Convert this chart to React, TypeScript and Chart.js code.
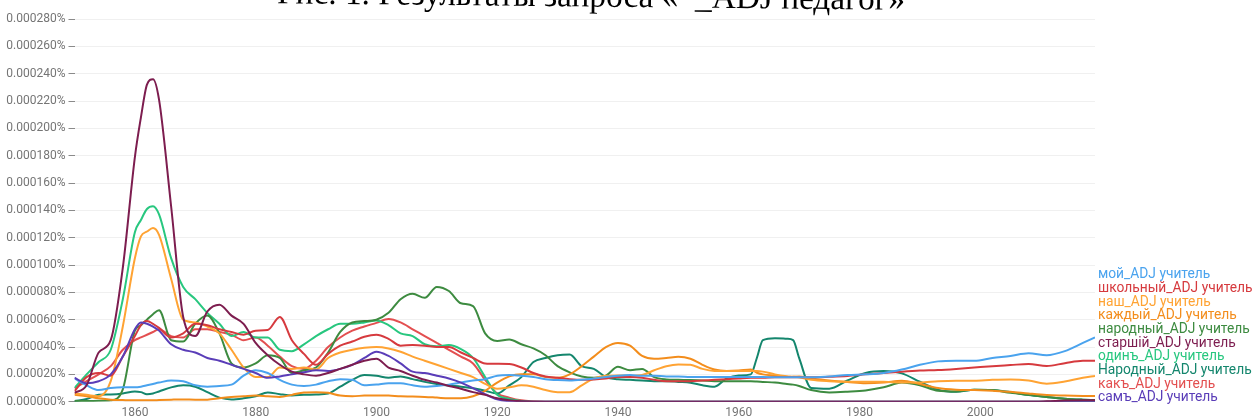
import React, { useEffect, useRef } from "react";
import { Chart, registerables } from "chart.js";

Chart.register(...registerables);

const TITLE = "Рис. 1. Результаты запроса «*_ADJ педагог»";

const YEARS = [
  1850, 1852, 1854, 1856, 1858, 1860, 1861, 1862, 1863, 1864,
  1866, 1868, 1870, 1872, 1874, 1876, 1878, 1880, 1882, 1884,
  1886, 1888, 1890, 1892, 1894, 1896, 1898, 1900, 1902, 1904,
  1906, 1908, 1910, 1912, 1914, 1916, 1918, 1920, 1922, 1924,
  1926, 1928, 1930, 1932, 1934, 1936, 1938, 1940, 1942, 1944,
  1946, 1948, 1950, 1952, 1954, 1956, 1958, 1960, 1962, 1963,
  1964, 1966, 1968, 1969, 1970, 1972, 1975, 1978, 1981, 1984,
  1987, 1990, 1993, 1996, 1999, 2002, 2005, 2008, 2011, 2014,
  2017, 2019,
];

const X_TICKS = [1860, 1880, 1900, 1920, 1940, 1960, 1980, 2000];
const Y_TICKS = [0, 20, 40, 60, 80, 100, 120, 140, 160, 180, 200, 220, 240, 260, 280];

// values in units of 0.000001 %
const MOY = [
  17, 12, 8.5, 10, 10.5, 10.5, 11, 12, 13, 14,
  15.5, 15, 12, 11, 11.5, 12.5, 19, 23, 21, 16,
  12.5, 11.5, 12.5, 15, 16.5, 16, 12, 12.5, 13.5, 13.5,
  12, 11, 11.5, 12.5, 14, 15.5, 16.5, 19, 19.5, 19,
  18, 16.5, 15.8, 15.5, 16, 17, 18, 19, 19.5, 19,
  19, 18.5, 18.5, 18, 18, 18, 18, 18, 18, 18,
  18, 17.8, 17.8, 17.8, 17.8, 17.8, 18.5, 19.5, 20, 21,
  23.5, 27, 29.5, 30, 30, 32, 33.5, 35.5, 34, 37,
  43, 47,
];

const SHKOLNYI = [
  7.8, 18, 21, 19, 33, 48, 56, 59, 57, 54,
  47, 50, 57, 56, 53, 51, 49, 52, 52.5, 62,
  45, 35, 27, 35, 41, 44, 47.5, 49, 46, 41,
  41.5, 41, 40, 40, 36, 32, 28, 27.7, 27.5, 25,
  21, 18.5, 17.5, 16.5, 16, 16.3, 17, 18, 18, 17.5,
  16, 15, 15, 15, 15.5, 16, 16.5, 17, 17.5, 17.5,
  17.5, 17.8, 17.8, 17.8, 17.8, 17.8, 18.2, 18.8, 20, 21,
  22, 22.8, 23.2, 24, 25, 26, 26.8, 27.6, 26.1, 28.2,
  30, 30,
];

const NASH = [
  6, 5, 4, 15, 55, 105, 121, 124.5, 127, 122,
  90, 60, 58, 55, 50, 38, 25, 18, 18, 25,
  24, 25, 23.6, 32, 36, 38, 39.4, 40, 39, 36.5,
  33, 30, 27, 24, 21, 18, 13, 9.5, 10.5, 12,
  11, 8.5, 7, 7, 12, 17, 19, 19.2, 19, 19.5,
  23, 26, 27.3, 27, 24, 22.5, 22.4, 22.4, 22.4, 22.4,
  22, 20, 18.7, 18.3, 17.8, 16, 15, 14.6, 14.6, 14.6,
  14, 14, 15, 15.4, 15.4, 16, 16.3, 15.5, 13.2, 14.8,
  17.5, 18.8,
];

const KAZHDYI = [
  5, 4, 2.5, 1.5, 1.2, 1, 1, 1, 1, 1.2,
  1.5, 1.7, 1.5, 1.5, 2.5, 3.5, 4, 4.5, 4, 3.5,
  5, 6.8, 7, 6.5, 4.5, 4, 4.5, 4.6, 4.5, 4,
  3.8, 3.5, 3, 2.5, 2.5, 4, 8, 14, 18.5, 20,
  20, 18, 17.5, 20, 26, 33, 40, 43, 41, 33.5,
  31.5, 32, 32.8, 31.4, 27, 23.5, 22.5, 22.8, 23.5, 21.2,
  20, 19, 18, 18.2, 18.5, 17, 15.5, 14.5, 13.5, 14,
  15.4, 13, 10, 8.8, 8.5, 8, 7.3, 6, 4.9, 4.5,
  4.2, 4.1,
];

const NARODNYI = [
  0.5, 0.5, 0.7, 1, 9, 52, 56, 60, 64, 67,
  45, 44, 57, 63, 50, 28, 25, 28, 34, 32,
  21, 23, 25, 36, 51, 58, 59, 60, 65, 75,
  79, 76, 84, 81, 72, 70, 50, 44.5, 45.5, 42,
  39, 34, 26, 21.5, 18.5, 17.5, 19, 25.5, 23, 24,
  18, 16.3, 16, 15.8, 15.5, 15, 15, 15, 15, 14.8,
  14.5, 14, 13, 12.5, 11.5, 8.5, 6.8, 7.3, 8.2, 10.5,
  14, 12, 8, 7.5, 8.8, 8.5, 6.5, 5, 3.5, 2.2,
  1.5, 1.2,
];

const STARSHII = [
  6.5, 12, 36, 45, 98, 179, 208, 232, 236, 221,
  143, 62, 48, 66, 71, 63, 57, 43, 34, 27,
  22, 20, 19, 21, 24, 27, 30, 31.5, 25, 22.5,
  19, 16, 14, 11.5, 9.5, 7, 5, 2.5, 1, 0.3,
  0, 0, 0, 0, 0, 0, 0, 0, 0, 0,
  0, 0, 0, 0, 0, 0, 0, 0, 0, 0,
  0, 0, 0, 0, 0, 0, 0, 0, 0, 0,
  0, 0, 0, 0, 0, 0, 0, 0, 0.3, 0.8,
  1, 1,
];

const ODIN = [
  10, 20, 29, 38, 75, 124, 133, 141, 143, 137,
  105, 84, 75, 65, 57, 48, 51, 47, 47, 38,
  37, 42, 48, 53, 57, 57, 58, 59.5, 56, 50,
  48, 42, 40.5, 41.5, 38.5, 32, 18, 5, 2, 0.5,
  0, 0, 0, 0, 0, 0, 0, 0, 0, 0,
  0, 0, 0, 0, 0, 0, 0, 0, 0, 0,
  0, 0, 0, 0, 0, 0, 0, 0, 0, 0,
  0, 0, 0, 0, 0, 0, 0, 0, 0, 0,
  0, 0,
];

const NARODNYI_CAP = [
  0.5, 2, 5, 5.3, 6, 7.5, 7, 5.5, 6, 7.5,
  10.5, 12, 11, 7, 3, 1.7, 2.5, 4, 6.8, 5.5,
  4.6, 5, 5.3, 6, 11, 16, 19.5, 19, 17.5, 18.5,
  16.5, 14.5, 13, 11.8, 11, 9.8, 8, 6, 12, 18,
  29, 32, 34, 34.5, 26, 24, 18, 16.5, 16, 15.5,
  15, 15, 14.5, 13.9, 12, 11, 17, 19.2, 20, 32,
  45, 46.5, 46, 45, 32, 10, 9.5, 15.5, 21, 22.4,
  20.7, 14.6, 8.8, 7.3, 8.8, 8.6, 7, 4.9, 3.5, 2.2,
  1.5, 1.2,
];

const KAK = [
  10, 15, 20, 26, 38, 45, 47, 49, 51, 53,
  48, 47, 53, 53, 51, 49, 45, 47, 41, 33,
  26, 24, 30, 40, 47, 52, 55, 57.7, 60.5, 58,
  53, 48, 43, 38, 33, 28, 16, 6, 3, 1,
  0.3, 0, 0, 0, 0, 0, 0, 0, 0, 0,
  0, 0, 0, 0, 0, 0, 0, 0, 0, 0,
  0, 0, 0, 0, 0, 0, 0, 0, 0, 0,
  0, 0, 0, 0, 0, 0, 0, 0, 0, 0,
  0, 0,
];

const SAM = [
  17.5, 13.5, 15, 20, 33, 53, 58, 57, 55, 52,
  42, 38, 36, 32, 30, 27, 24, 21, 17.5, 18.5,
  20, 21.5, 23, 22.5, 24, 27, 32, 36.5, 33.5, 28,
  22, 21, 19, 17, 14, 10, 5.5, 1.8, 0.3, 0,
  0, 0, 0, 0, 0, 0, 0, 0, 0, 0,
  0, 0, 0, 0, 0, 0, 0, 0, 0, 0,
  0, 0, 0, 0, 0, 0, 0, 0, 0, 0,
  0, 0, 0, 0, 0, 0, 0, 0, 0, 0,
  0, 0,
];

const SERIES_NAMES = [
  "мой_ADJ учитель",
  "школьный_ADJ учитель",
  "наш_ADJ учитель",
  "каждый_ADJ учитель",
  "народный_ADJ учитель",
  "старшій_ADJ учитель",
  "одинъ_ADJ учитель",
  "Народный_ADJ учитель",
  "какъ_ADJ учитель",
  "самъ_ADJ учитель",
];

const SERIES_VALUES = [MOY, SHKOLNYI, NASH, KAZHDYI, NARODNYI, STARSHII, ODIN, NARODNYI_CAP, KAK, SAM];

const SERIES_COLORS = [
  "#4aa3ee",
  "#d63a3e",
  "#ffa333",
  "#f38d1c",
  "#3d8b40",
  "#7d1d4f",
  "#28c77f",
  "#14866d",
  "#e34f50",
  "#5a3db8",
];

const overlayPlugin = {
  id: "overlay",
  afterDraw(chart: any) {
    const ctx = chart.ctx as CanvasRenderingContext2D;
    ctx.save();
    // legend labels at the right
    ctx.font = "13.8px Roboto";
    ctx.textAlign = "left";
    ctx.textBaseline = "middle";
    SERIES_NAMES.forEach((name, i) => {
      ctx.fillStyle = SERIES_COLORS[i];
      ctx.fillText(name, 1098, 275 + i * 13.64);
    });
    // caption (cut off at the top)
    let size = 33;
    ctx.font = `${size}px "Liberation Serif"`;
    const w = ctx.measureText(TITLE).width;
    size = (size * 628) / w;
    ctx.font = `${size}px "Liberation Serif"`;
    ctx.fillStyle = "#000";
    ctx.textAlign = "center";
    ctx.textBaseline = "alphabetic";
    ctx.translate(591, 6.5);
    ctx.rotate(0.0105);
    ctx.fillText(TITLE, 0, 0);
    ctx.restore();
  },
};

export default function App() {
  const ref = useRef<HTMLCanvasElement | null>(null);

  useEffect(() => {
    document.body.style.margin = "0";
    const canvas = ref.current;
    if (!canvas) return;
    const datasets = SERIES_VALUES.map((vals, i) => ({
      label: SERIES_NAMES[i],
      data: YEARS.map((yr, j) => ({ x: yr, y: vals[j] })),
      borderColor: SERIES_COLORS[i],
      backgroundColor: SERIES_COLORS[i],
      borderWidth: 2,
      pointRadius: 0,
      fill: false,
      cubicInterpolationMode: "monotone" as const,
      order: i === 9 ? -1 : i === 5 ? -2 : 0,
    }));
    const chart = new Chart(canvas, {
      type: "line",
      data: { datasets },
      options: {
        responsive: false,
        animation: false,
        devicePixelRatio: 1,
        layout: { padding: { top: 19, right: 160, left: 0, bottom: 0 } },
        plugins: {
          legend: { display: false },
          tooltip: { enabled: false },
          title: { display: false },
        },
        scales: {
          x: {
            type: "linear",
            min: 1850,
            max: 2019,
            grid: { display: false, drawTicks: false },
            border: { display: false },
            afterBuildTicks: (s: any) => {
              s.ticks = X_TICKS.map((v) => ({ value: v }));
            },
            afterFit: (s: any) => {
              s.height = 17.3;
            },
            ticks: {
              color: "#757575",
              font: { family: "Roboto", size: 12 },
              padding: 4,
              maxRotation: 0,
              autoSkip: false,
              callback: (v: any) => String(v),
            },
          },
          y: {
            type: "linear",
            min: 0,
            max: 280,
            afterBuildTicks: (s: any) => {
              s.ticks = Y_TICKS.map((v) => ({ value: v }));
            },
            afterFit: (s: any) => {
              s.width = 74.5;
            },
            grid: { color: "#f0f0f0", tickColor: "#8a8a8a", tickLength: 6, drawTicks: true, lineWidth: 1 },
            border: { display: false },
            ticks: {
              color: "#757575",
              font: { family: "Roboto", size: 12 },
              padding: 3,
              callback: (v: any) => (Number(v) / 1e6).toFixed(6) + "%",
            },
          },
        },
      },
      plugins: [overlayPlugin],
    });
    return () => chart.destroy();
  }, []);

  return (
    <div style={{ position: "absolute", left: 0, top: 0, width: 1255, height: 419 }}>
      <canvas ref={ref} width={1255} height={419} style={{ display: "block" }} />
    </div>
  );
}
